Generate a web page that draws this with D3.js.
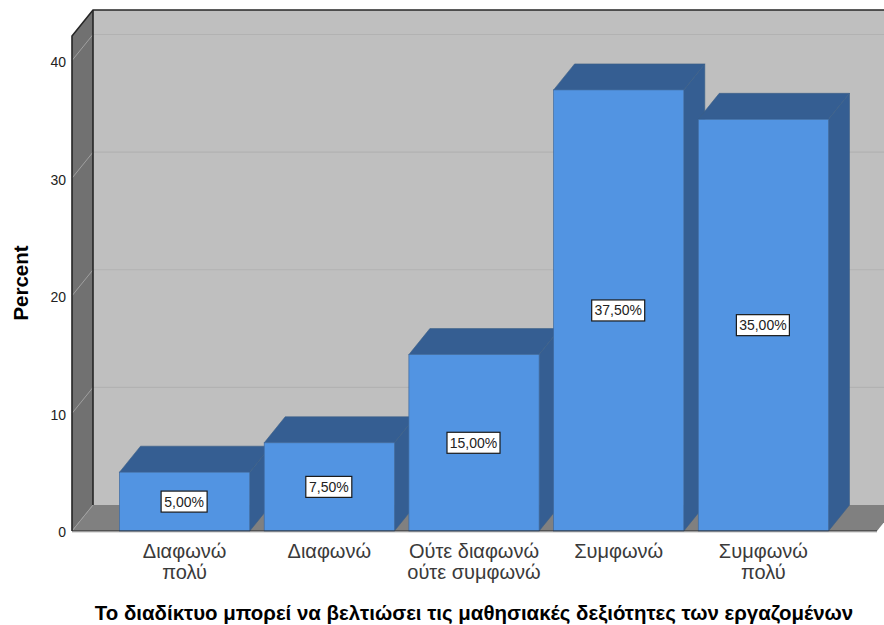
<!DOCTYPE html>
<html>
<head>
<meta charset="utf-8">
<script src="https://cdnjs.cloudflare.com/ajax/libs/d3/7.8.5/d3.min.js"></script>
<style>
html,body{margin:0;padding:0;background:#fff;overflow:hidden}
svg{display:block}
text{font-family:"Liberation Sans",Arial,sans-serif}
</style>
</head>
<body>
<svg id="c" width="884" height="625"></svg>
<script>
const categories = [["Διαφωνώ","πολύ"],["Διαφωνώ"],["Ούτε διαφωνώ","ούτε συμφωνώ"],["Συμφωνώ"],["Συμφωνώ","πολύ"]];
const values = [5, 7.5, 15, 37.5, 35];
const valueLabels = ["5,00%","7,50%","15,00%","37,50%","35,00%"];
const yTicks = [0, 10, 20, 30, 40];
const yTitle = "Percent";
const xTitle = "Το διαδίκτυο μπορεί να βελτιώσει τις μαθησιακές δεξιότητες των εργαζομένων";

const svg = d3.select("#c");
const DX = 21, DY = -26;
const x = d3.scaleBand().domain(d3.range(values.length)).range([119.5, 828.5]).paddingInner(0.1);
const y = d3.scaleLinear().domain([0, 40]).range([531, 60.5]);
const yMax = 42.08, left = 72, right = 877, W = 884;
const poly = pts => pts.map(p => p.join(",")).join(" ");

// back wall
svg.append("rect").attr("x", left + DX).attr("y", y(yMax) + DY).attr("width", W - left - DX).attr("height", y(0) - y(yMax))
  .attr("fill", "#bfbfbf");
// side wall
svg.append("polygon").attr("points", poly([[left, y(0)], [left, y(yMax)], [left + DX, y(yMax) + DY], [left + DX, y(0) + DY]]))
  .attr("fill", "#717171");
// floor
svg.append("polygon").attr("points", poly([[left, y(0)], [left + DX, y(0) + DY], [right + DX, y(0) + DY], [right, y(0)]]))
  .attr("fill", "#808080");

// gridlines
const grid = yTicks.slice(1);
svg.selectAll(".gb").data(grid).join("line").attr("x1", left + DX).attr("x2", W)
  .attr("y1", d => y(d) + DY).attr("y2", d => y(d) + DY).attr("stroke", "#b2b2b2").attr("stroke-width", 1.2);
svg.selectAll(".gs").data(yTicks).join("line").attr("x1", left).attr("x2", left + DX)
  .attr("y1", d => y(d)).attr("y2", d => y(d) + DY).attr("stroke", "#a0a0a0").attr("stroke-width", 1);

// wall outlines
const outline = "#262626";
svg.append("polyline").attr("points", poly([[left, y(0)], [left, y(yMax)], [left + DX, y(yMax) + DY], [W, y(yMax) + DY]]))
  .attr("fill", "none").attr("stroke", outline).attr("stroke-width", 1.6);
svg.append("line").attr("x1", left + DX).attr("x2", left + DX).attr("y1", y(yMax) + DY).attr("y2", y(0) + DY)
  .attr("stroke", outline).attr("stroke-width", 1.6);

// bars
const bars = svg.selectAll(".bar").data(values).join("g").attr("class", "bar");
bars.append("polygon").attr("class", "top")
  .attr("points", (d, i) => { const a = x(i), b = a + x.bandwidth(), t = y(d);
    return poly([[a, t], [a + DX, t + DY], [b + DX, t + DY], [b, t]]); })
  .attr("fill", "#355e92").attr("stroke", "#3d6087").attr("stroke-width", 0.6);
bars.append("polygon").attr("class", "side")
  .attr("points", (d, i) => { const b = x(i) + x.bandwidth(), t = y(d);
    return poly([[b, t], [b + DX, t + DY], [b + DX, y(0) + DY], [b, y(0)]]); })
  .attr("fill", "#355e92").attr("stroke", "#3d6087").attr("stroke-width", 0.6);
bars.append("rect").attr("class", "front")
  .attr("x", (d, i) => x(i)).attr("y", d => y(d)).attr("width", x.bandwidth()).attr("height", d => y(0) - y(d))
  .attr("fill", "#5294e2").attr("stroke", "#3f6a9e").attr("stroke-width", 0.7);

// front baseline
svg.append("line").attr("x1", left).attr("x2", right).attr("y1", y(0)).attr("y2", y(0))
  .attr("stroke", "#262626").attr("stroke-width", 1.2);
svg.append("line").attr("x1", left).attr("x2", right).attr("y1", y(0) + 1.4).attr("y2", y(0) + 1.4)
  .attr("stroke", "#dcdcdc").attr("stroke-width", 1);

// value labels
const lab = svg.selectAll(".vl").data(values).join("g").attr("class", "vl")
  .attr("transform", (d, i) => `translate(${x(i) + x.bandwidth() / 2 - 0.5},${y(d / 2)})`);
const boxW = s => s.length > 5 ? 53 : 46;
lab.append("rect").attr("x", (d, i) => -boxW(valueLabels[i]) / 2).attr("y", -10.5)
  .attr("width", (d, i) => boxW(valueLabels[i])).attr("height", 21)
  .attr("fill", "#fff").attr("stroke", "#1a1a1a").attr("stroke-width", 1.2);
lab.append("text").attr("text-anchor", "middle").attr("y", 5).attr("font-size", 14).attr("fill", "#222")
  .text((d, i) => valueLabels[i]);

// y axis
const ya = svg.append("g").attr("transform", `translate(${left},0)`)
  .call(d3.axisLeft(y).tickValues(yTicks).tickSize(0).tickPadding(6));
ya.select(".domain").remove();
ya.selectAll("text").attr("font-size", 14).attr("fill", "#222").attr("dy", "0.42em").style("font-family", '"Liberation Sans",Arial,sans-serif');

// x axis labels
const xl = svg.selectAll(".xl").data(categories).join("text").attr("class", "xl")
  .attr("text-anchor", "middle").attr("font-size", 20).attr("fill", "#3a3a3a");
xl.selectAll("tspan").data((d, i) => d.map(s => ({ s, i }))).join("tspan")
  .attr("x", d => x(d.i) + x.bandwidth() / 2)
  .attr("y", (d, j) => 558 + j * 21)
  .text(d => d.s);

// titles
svg.append("text").attr("transform", "translate(28,283) rotate(-90)").attr("text-anchor", "middle")
  .attr("font-size", 20.5).attr("font-weight", "bold").attr("fill", "#000").text(yTitle);
svg.append("text").attr("x", 474).attr("y", 620).attr("text-anchor", "middle")
  .attr("font-size", 20.45).attr("font-weight", "bold").attr("fill", "#000").text(xTitle);
</script>
</body>
</html>
